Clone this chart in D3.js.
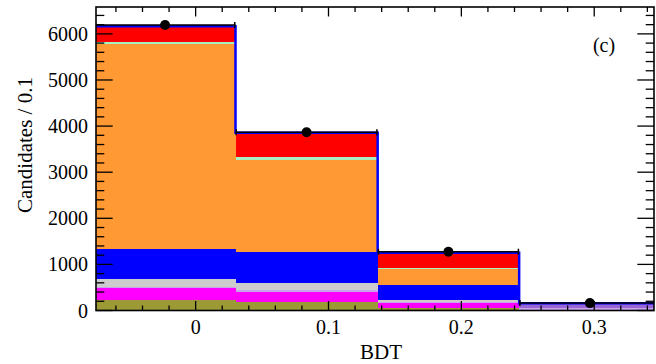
<!DOCTYPE html>
<html>
<head>
<meta charset="utf-8">
<script src="https://cdn.jsdelivr.net/npm/d3@7"></script>
<style>
  html, body { margin: 0; padding: 0; background: #fff; }
  svg { display: block; }
</style>
</head>
<body>
<svg id="chart" width="656" height="364"></svg>
<script>
// BDT bin edges (the last bin runs past the visible axis range)
const binEdges = [-0.076, 0.030, 0.137, 0.2435, 0.350];

// Stacked background components, bottom to top, one value per bin
const olive    = [230, 191, 48, 6];
const magenta  = [250, 217, 108, 8];
const lavender = [40, 26, 30, 30];
const purple   = [0, 0, 0, 104];
const grey     = [155, 156, 42, 4];
const blue     = [656, 672, 325, 4];
const orange   = [4446, 2003, 347, 0];
const mint     = [40, 58, 28, 0];
const red      = [350, 534, 326, 0];

// Observed candidates per bin
const dataCounts = [6193, 3865, 1275, 160];

const xTicks = [0, 0.1, 0.2, 0.3];
const yTicks = [0, 1000, 2000, 3000, 4000, 5000, 6000];

const layers = [
  { name: "olive",    values: olive,    color: "#9c9a35" },
  { name: "magenta",  values: magenta,  color: "#ff00ff" },
  { name: "lavender", values: lavender, color: "#c9a3f0" },
  { name: "purple",   values: purple,   color: "#9966d6" },
  { name: "grey",     values: grey,     color: "#cccccc" },
  { name: "blue",     values: blue,     color: "#0000ff" },
  { name: "orange",   values: orange,   color: "#ff9933" },
  { name: "mint",     values: mint,     color: "#a8f0c0" },
  { name: "red",      values: red,      color: "#ff0000" }
];

const serif = "'Liberation Serif', 'Times New Roman', Times, 'DejaVu Serif', serif";

const svg = d3.select("#chart");
const frameL = 96, frameR = 654, frameT = 7, frameB = 310.5;

const x = d3.scaleLinear().domain([-0.075, 0.345]).range([frameL, frameR]);
const y = d3.scaleLinear().domain([0, 6583]).range([frameB, frameT]);

svg.append("defs").append("clipPath").attr("id", "plotArea")
  .append("rect").attr("x", frameL).attr("y", frameT)
  .attr("width", frameR - frameL).attr("height", frameB - frameT);

const plot = svg.append("g").attr("clip-path", "url(#plotArea)");

// Stack the components bin by bin
const bins = d3.range(dataCounts.length).map(i => {
  const row = { i };
  layers.forEach(l => row[l.name] = l.values[i]);
  return row;
});
const stacked = d3.stack().keys(layers.map(l => l.name))(bins);

stacked.forEach((series, k) => {
  plot.append("g").attr("fill", layers[k].color)
    .selectAll("rect").data(series).join("rect")
    .attr("shape-rendering", "crispEdges")
    .attr("x", d => x(binEdges[d.data.i]))
    .attr("width", d => x(binEdges[d.data.i + 1]) - x(binEdges[d.data.i]))
    .attr("y", d => y(d[1]))
    .attr("height", d => y(d[0]) - y(d[1]));
});

// Outline of the total stacked prediction
const totals = bins.map((b, i) => d3.sum(layers, l => l.values[i]));
const stepPts = [[binEdges[0], 0]];
totals.forEach((t, i) => { stepPts.push([binEdges[i], t]); stepPts.push([binEdges[i + 1], t]); });
stepPts.push([binEdges[binEdges.length - 1], 0]);
plot.append("path")
  .attr("d", d3.line().x(d => x(d[0])).y(d => y(d[1]))(stepPts))
  .attr("fill", "none").attr("stroke", "#0000ff").attr("stroke-width", 2.5);

// Data points with bin-width bars and Poisson errors
const pts = plot.append("g").attr("stroke", "#000").attr("fill", "#000");
dataCounts.forEach((n, i) => {
  const x0 = x(binEdges[i]), x1 = x(binEdges[i + 1]);
  const cx = x((binEdges[i] + binEdges[i + 1]) / 2), cy = y(n);
  const err = Math.sqrt(n);
  pts.append("line").attr("x1", x0).attr("x2", x1).attr("y1", cy).attr("y2", cy).attr("stroke-width", 1.5);
  pts.append("line").attr("x1", x0 + 0.75).attr("x2", x0 + 0.75).attr("y1", cy - 3).attr("y2", cy + 3).attr("stroke-width", 1.5);
  pts.append("line").attr("x1", x1 - 0.75).attr("x2", x1 - 0.75).attr("y1", cy - 3).attr("y2", cy + 3).attr("stroke-width", 1.5);
  pts.append("line").attr("x1", cx).attr("x2", cx).attr("y1", y(n + err)).attr("y2", y(n - err)).attr("stroke-width", 1.5);
  pts.append("circle").attr("cx", cx).attr("cy", cy).attr("r", 5).attr("stroke", "none");
});

// Frame with inward ticks on all four sides
const axes = svg.append("g").attr("stroke", "#000").attr("stroke-width", 1.3);
const xMinor = d3.range(-0.06, 0.345, 0.02).map(v => Math.round(v * 100) / 100);
xMinor.forEach(v => {
  const major = Math.abs(v * 10 - Math.round(v * 10)) < 1e-6;
  const len = major ? 9.5 : 5;
  axes.append("line").attr("x1", x(v)).attr("x2", x(v)).attr("y1", frameB).attr("y2", frameB - len);
  axes.append("line").attr("x1", x(v)).attr("x2", x(v)).attr("y1", frameT).attr("y2", frameT + len);
});
d3.range(0, 6583, 200).forEach(v => {
  const major = v % 1000 === 0;
  const len = major ? 16.7 : 8.3;
  axes.append("line").attr("x1", frameL).attr("x2", frameL + len).attr("y1", y(v)).attr("y2", y(v));
  axes.append("line").attr("x1", frameR).attr("x2", frameR - len).attr("y1", y(v)).attr("y2", y(v));
});
svg.append("rect").attr("x", frameL).attr("y", frameT)
  .attr("width", frameR - frameL).attr("height", frameB - frameT)
  .attr("fill", "none").attr("stroke", "#000").attr("stroke-width", 1.6);

// Tick labels
svg.append("g").selectAll("text").data(xTicks).join("text")
  .attr("x", d => x(d)).attr("y", 334)
  .attr("text-anchor", "middle").attr("font-family", serif).attr("font-size", 20)
  .text(d => d3.format("~g")(d));
svg.append("g").selectAll("text").data(yTicks).join("text")
  .attr("x", 88).attr("y", d => y(d) + 7)
  .attr("text-anchor", "end").attr("font-family", serif).attr("font-size", 20)
  .text(d => d);

// Axis titles and panel tag
svg.append("text").attr("x", 381).attr("y", 359)
  .attr("text-anchor", "middle").attr("font-family", serif).attr("font-size", 21).text("BDT");
svg.append("text").attr("transform", "translate(32,145) rotate(-90)")
  .attr("text-anchor", "middle").attr("font-family", serif).attr("font-size", 21).text("Candidates / 0.1");
svg.append("text").attr("x", 604).attr("y", 52)
  .attr("text-anchor", "middle").attr("font-family", serif).attr("font-size", 20).text("(c)");
</script>
</body>
</html>
